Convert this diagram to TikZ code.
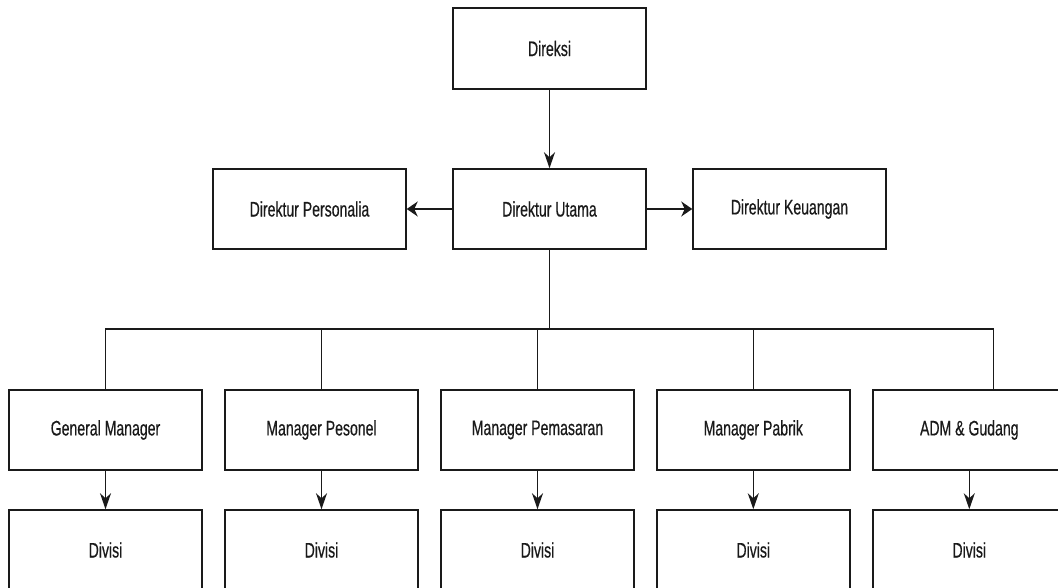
\documentclass[tikz,border=0pt]{standalone}
\usepackage{fontspec}
\setmainfont{Liberation Sans}[FakeStretch=0.67,FakeBold=0.5]
\usetikzlibrary{arrows.meta}
\definecolor{ink}{HTML}{1A1A1A}
\begin{document}
\begin{tikzpicture}[x=1pt,y=-1pt,
  box/.style={draw=ink, line width=1.5pt, minimum width=193pt, minimum height=80pt,
    inner sep=0pt, text=ink, font=\fontsize{21}{25}\selectfont},
  link/.style={draw=ink, line width=1.4pt},
  down/.style={link, -{Stealth[length=16pt,width=11pt,inset=5pt]}},
  side/.style={link, -{Stealth[length=11pt,width=15pt,inset=3.5pt]}}]
  \useasboundingbox (0,0) rectangle (1058,588);
  \clip (0,0) rectangle (1058,588);

  % top management
  \node[box, minimum height=81pt] (direksi) at (549.5,48.5) {Direksi};
  \node[box] (utama) at (549.5,209) {Direktur Utama};
  \node[box] (personalia) at (309.5,209) {Direktur Personalia};
  \node[box] (keuangan) at (789.5,209) {Direktur Keuangan};

  % managers
  \node[box] (gm) at (105.5,430) {General Manager};
  \node[box] (pesonel) at (321.5,430) {Manager Pesonel};
  \node[box] (pemasaran) at (537.5,430) {Manager Pemasaran};
  \node[box] (pabrik) at (753.3,430) {Manager Pabrik};
  \node[box] (adm) at (969.3,430) {ADM \& Gudang};

  % divisions
  \node[box] (d1) at (105.5,550) {Divisi};
  \node[box] (d2) at (321.5,550) {Divisi};
  \node[box] (d3) at (537.5,550) {Divisi};
  \node[box] (d4) at (753.3,550) {Divisi};
  \node[box] (d5) at (969.3,550) {Divisi};

  % connectors
  \draw[down] (direksi.south) -- (utama.north);
  \draw[side] (utama.west) -- (personalia.east);
  \draw[side] (utama.east) -- (keuangan.west);

  \coordinate (bus) at (549.5,329);
  \draw[link] (utama.south) -- (bus);
  \draw[link] (gm.north) |- (bus);
  \draw[link] (pesonel.north) |- (bus);
  \draw[link] (pemasaran.north) |- (bus);
  \draw[link] (pabrik.north) |- (bus);
  \draw[link] ([xshift=24pt]adm.north) |- (bus);

  \draw[down] (gm.south) -- (d1.north);
  \draw[down] (pesonel.south) -- (d2.north);
  \draw[down] (pemasaran.south) -- (d3.north);
  \draw[down] (pabrik.south) -- (d4.north);
  \draw[down] (adm.south) -- (d5.north);
\end{tikzpicture}
\end{document}
